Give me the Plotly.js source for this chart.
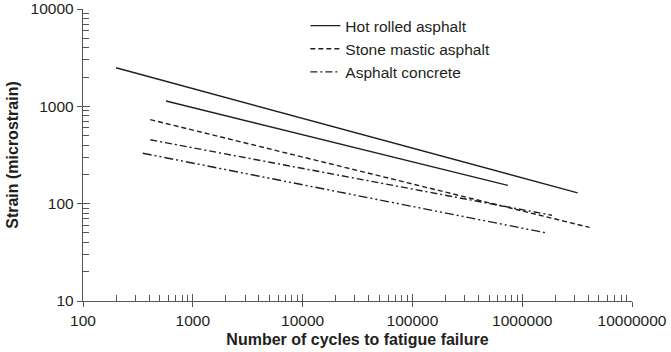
<!DOCTYPE html>
<html>
<head>
<meta charset="utf-8">
<script src="https://cdn.plot.ly/plotly-3.0.1.min.js"></script>
<style>html,body{margin:0;padding:0;background:#fff;}#chart{width:671px;height:352px;}</style>
</head>
<body>
<div id="chart"></div>
<script>
// Series names
const seriesNames = ["Hot rolled asphalt", "Stone mastic asphalt", "Asphalt concrete"];
// Hot rolled asphalt (two lines)
const hraA_x = [200, 3200000];
const hraA_y = [2490, 129];
const hraB_x = [570, 740000];
const hraB_y = [1135, 154];
// Stone mastic asphalt
const sma_x = [410, 4100000];
const sma_y = [730, 57];
// Asphalt concrete (two lines)
const acA_x = [410, 1870000];
const acA_y = [453, 76];
const acB_x = [350, 1670000];
const acB_y = [330, 50];
// Tick labels
const xTickVals = [100, 1000, 10000, 100000, 1000000, 10000000];
const xTickText = ["100", "1000", "10000", "100000", "1000000", "10000000"];
const yTickVals = [10, 100, 1000, 10000];
const yTickText = ["10", "100", "1000", "10000"];
const minorMult = [2, 3, 4, 5, 6, 7, 8, 9];

const ink = "#231f20";
const axc = "#555";
function minorTicks(majors) {
  const out = [];
  for (let i = 0; i < majors.length - 1; i++) minorMult.forEach(m => out.push(majors[i] * m));
  return out;
}
function tr(x, y, name, dash, show) {
  return {x: x, y: y, type: "scatter", mode: "lines", name: name,
    showlegend: show, legendgroup: name,
    line: {color: ink, width: 1.4, dash: dash}};
}
const data = [
  tr(hraA_x, hraA_y, seriesNames[0], "solid", true),
  tr(hraB_x, hraB_y, seriesNames[0], "solid", false),
  tr(sma_x, sma_y, seriesNames[1], "5px,3px", true),
  tr(acA_x, acA_y, seriesNames[2], "7px,3px,2px,3px", true),
  tr(acB_x, acB_y, seriesNames[2], "9px,3px,2px,3px,2px,3px", false)
];
const font = {family: "Liberation Sans, Arial, sans-serif", size: 15.5, color: ink};
const tfont = {family: "Liberation Sans, Arial, sans-serif", size: 16, color: ink};
function overlayAxis(anchorName, vals, len, side) {
  return {type: "log", overlaying: anchorName, showgrid: false, zeroline: false, showline: false,
    ticks: "inside", ticklen: len, tickcolor: axc, tickwidth: 1,
    tickvals: vals, showticklabels: false, side: side};
}
const layout = {
  width: 671, height: 352,
  margin: {l: 83, r: 39, t: 9, b: 51},
  paper_bgcolor: "#fff", plot_bgcolor: "#fff",
  font: font,
  showlegend: true,
  legend: {x: 0.405, y: 1.0, xanchor: "left", yanchor: "top",
    bgcolor: "rgba(0,0,0,0)", font: font, tracegroupgap: 0},
  xaxis: {type: "log", range: [2, 7], showgrid: false, zeroline: false,
    showline: true, linecolor: axc, linewidth: 1.2,
    ticks: "outside", ticklen: 5, tickcolor: axc, tickwidth: 1,
    tickvals: xTickVals, ticktext: xTickText, tickfont: font, ticklabeloverflow: "allow",
    title: {text: "<b>Number of cycles to fatigue failure</b>", font: tfont, standoff: 6}},
  yaxis: {type: "log", range: [1, 4], showgrid: false, zeroline: false,
    showline: true, linecolor: axc, linewidth: 1.2,
    ticks: "outside", ticklen: 5, tickcolor: axc, tickwidth: 1,
    tickvals: yTickVals, ticktext: yTickText, tickfont: font, ticklabeloverflow: "allow",
    title: {text: "<b>Strain (microstrain)</b>", font: tfont, standoff: 8}},
  xaxis2: Object.assign(overlayAxis("x", xTickVals, 7, "bottom"), {range: [2, 7]}),
  yaxis2: Object.assign(overlayAxis("y", yTickVals, 7, "left"), {range: [1, 4]}),
  xaxis3: Object.assign(overlayAxis("x", minorTicks(xTickVals), 6, "bottom"), {range: [2, 7]}),
  yaxis3: Object.assign(overlayAxis("y", minorTicks(yTickVals), 6, "left"), {range: [1, 4]})
};
data.push({x: [100], y: [10], xaxis: "x2", yaxis: "y2", type: "scatter", mode: "markers",
  marker: {opacity: 0}, showlegend: false, hoverinfo: "skip"});
data.push({x: [100], y: [10], xaxis: "x3", yaxis: "y3", type: "scatter", mode: "markers",
  marker: {opacity: 0}, showlegend: false, hoverinfo: "skip"});
Plotly.newPlot("chart", data, layout, {staticPlot: true});
</script>
</body>
</html>
